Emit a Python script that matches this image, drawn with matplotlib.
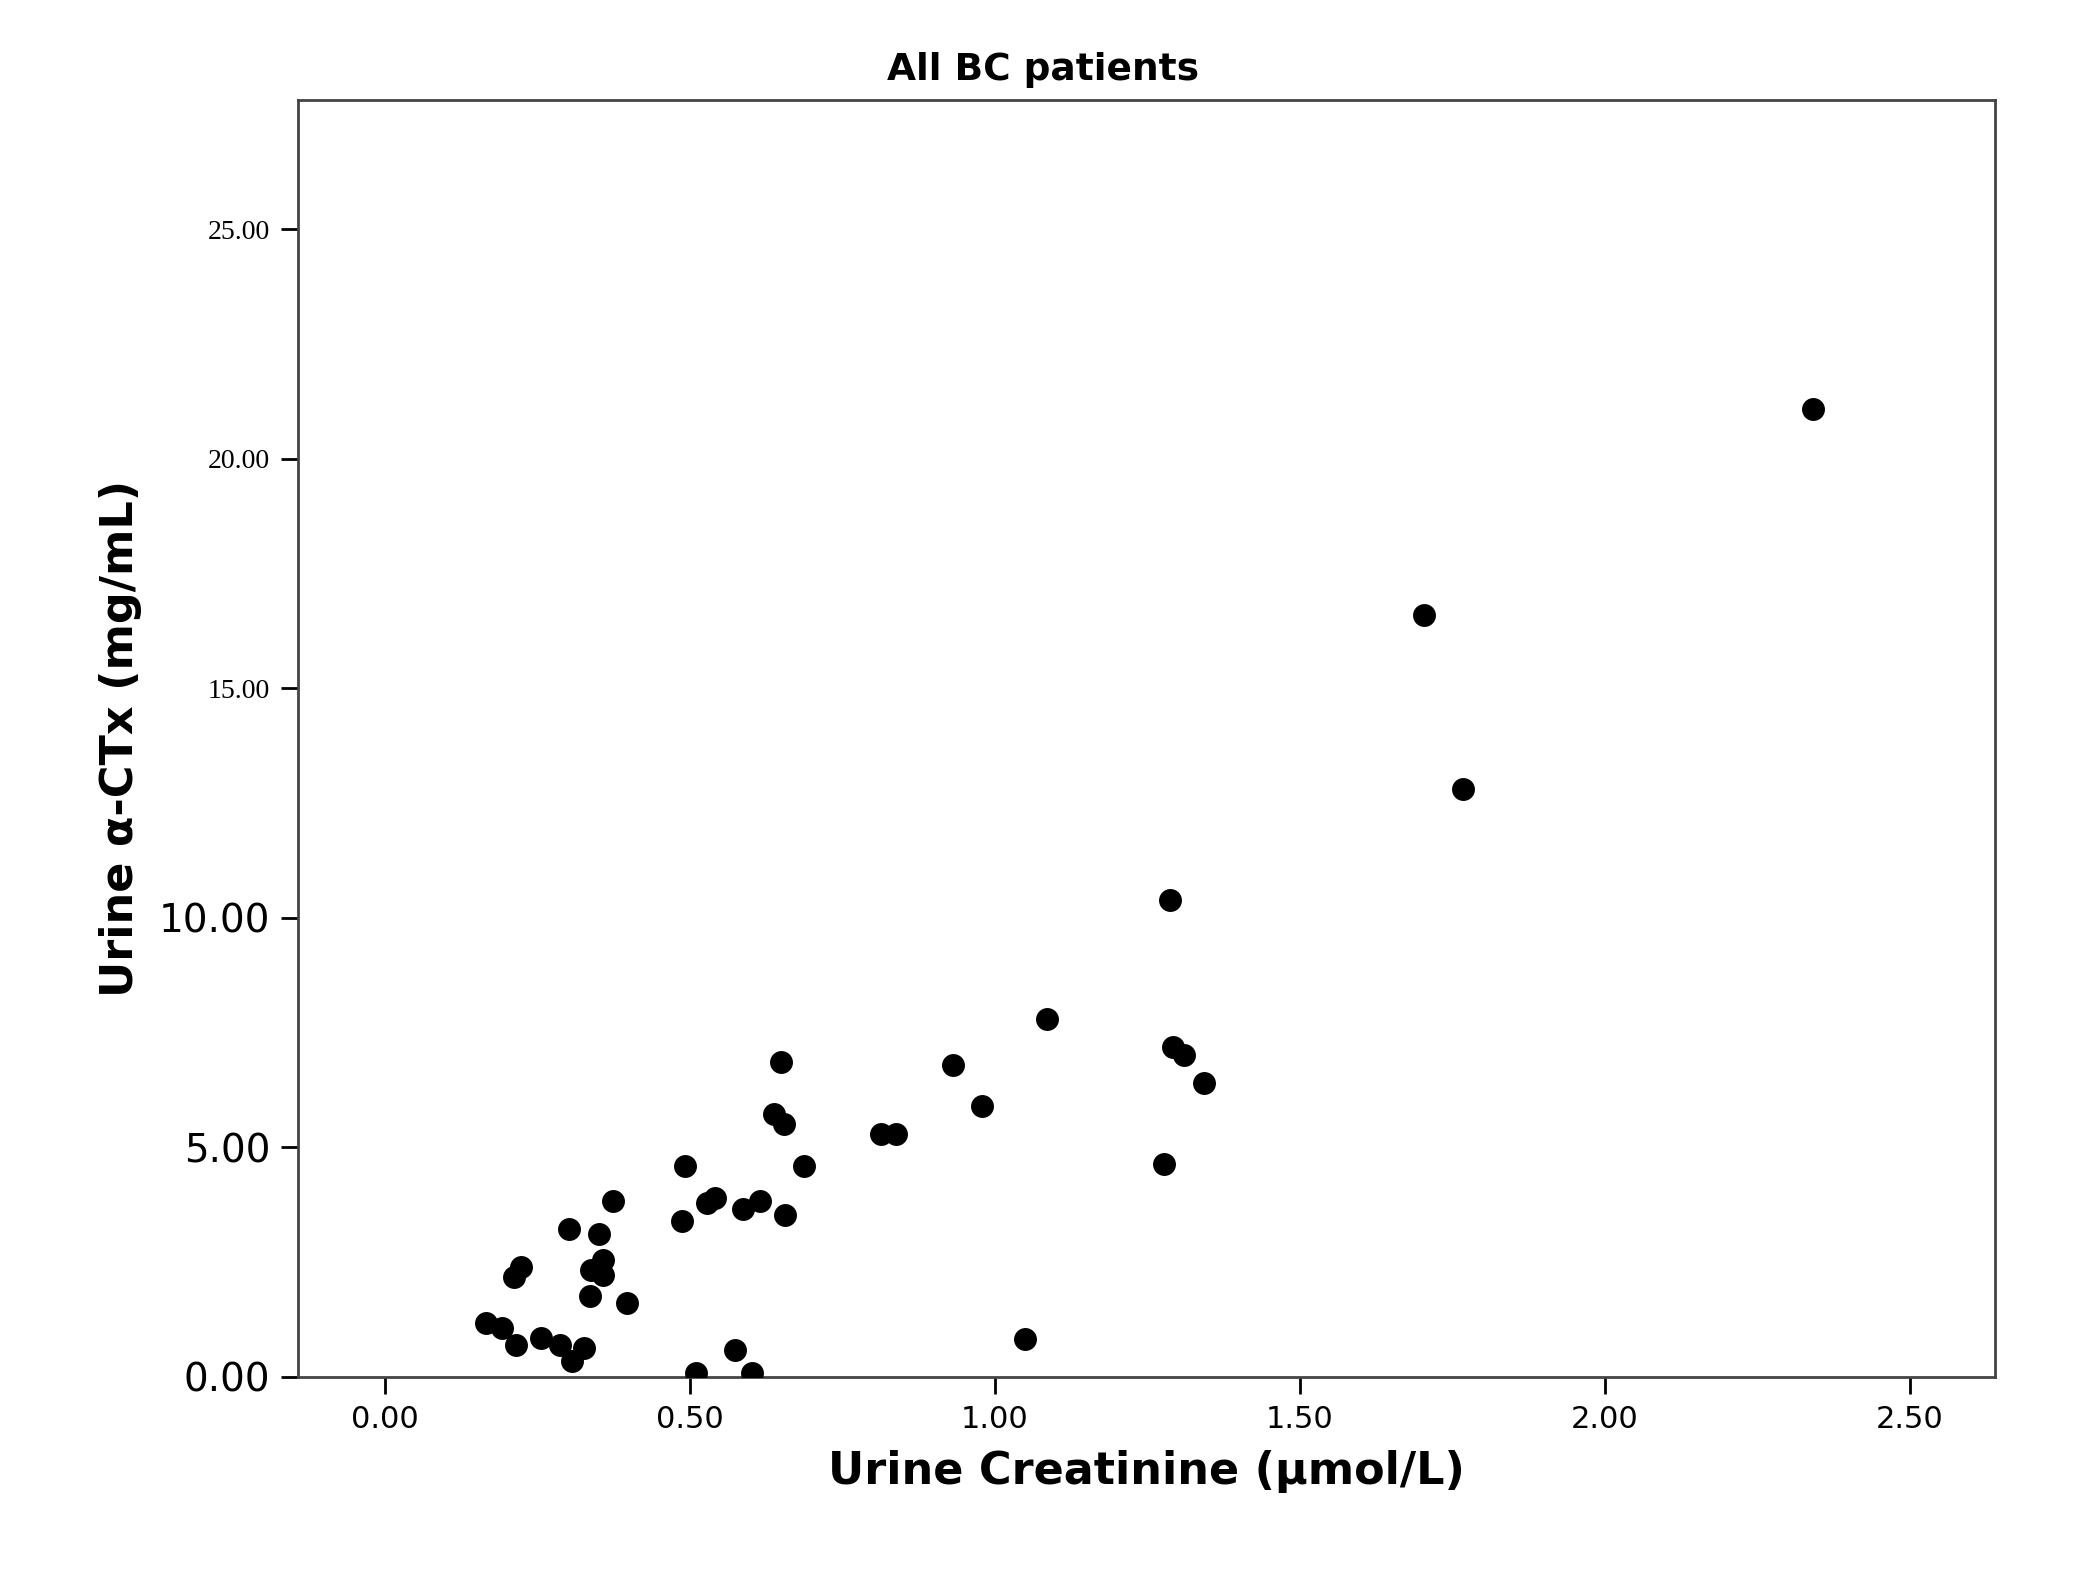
import matplotlib
matplotlib.use("Agg")
import matplotlib.pyplot as plt

creatinine = [0.166,0.192,0.215,0.212,0.223,0.257,0.288,0.303,0.308,0.327,0.336,0.338,0.352,0.358,0.358,0.374,0.398,
              0.487,0.493,0.511,0.529,0.542,0.575,0.588,0.602,0.615,0.639,0.650,0.655,0.657,0.688,0.814,0.838,0.931,
              0.980,1.049,1.086,1.277,1.288,1.292,1.310,1.343,1.704,1.768,2.341]
ctx = [1.17,1.06,0.70,2.17,2.40,0.85,0.70,3.22,0.35,0.64,1.76,2.32,3.11,2.55,2.23,3.84,1.61,
       3.40,4.60,0.09,3.78,3.90,0.59,3.66,0.09,3.84,5.72,6.86,5.51,3.52,4.60,5.28,5.28,6.80,
       5.89,0.82,7.80,4.63,10.38,7.18,7.00,6.39,16.59,12.81,21.07]
xticks = [0.0,0.5,1.0,1.5,2.0,2.5]
yticks = [0.0,5.0,10.0,15.0,20.0,25.0]

fig = plt.figure(figsize=(20.98,15.70), dpi=100)
ax = fig.add_axes([0.142,0.123,0.809,0.813])
ax.scatter(creatinine, ctx, s=240, color='black', zorder=3)
ax.set_xlim(-0.142,2.64)
ax.set_ylim(0,27.8)
ax.set_xticks(xticks)
ax.set_xticklabels([f"{v:.2f}" for v in xticks], fontsize=22)
ax.set_yticks(yticks)
ax.set_yticklabels([f"{v:.2f}" for v in yticks])
for i, lab in enumerate(ax.get_yticklabels()):
    lab.set_fontsize(28 if i < 3 else 20)
    if i >= 3:
        lab.set_family('Liberation Serif')
ax.tick_params(axis='both', direction='out', length=12, width=2, pad=8)
for s in ax.spines.values():
    s.set_linewidth(2)
    s.set_color('#444444')
ax.set_xlabel("Urine Creatinine (µmol/L)", fontsize=32, fontweight='bold', labelpad=12)
ax.set_ylabel("Urine α-CTx (mg/mL)", fontsize=32, fontweight='bold', labelpad=12)
fig.text(0.497, 0.944, "All BC patients", fontsize=27, fontweight='bold', ha='center', va='bottom')
fig.savefig("out.png", dpi=100)
